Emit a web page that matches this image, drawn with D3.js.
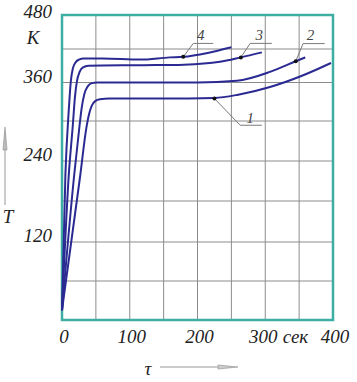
<!DOCTYPE html>
<html>
<head>
<meta charset="utf-8">
<script src="https://cdn.jsdelivr.net/npm/d3@7"></script>
<style>
  body { margin: 0; background: #fff; }
  svg text { font-family: "Liberation Serif", "DejaVu Serif", serif; font-style: italic; fill: #222; }
</style>
</head>
<body>
<div id="chart"></div>
<script>
// Data: time in seconds, temperature in K
var xTicks = [0, 100, 200, 300, 400];
var yTicks = [120, 240, 360, 480];
var xGrid = [0, 50, 100, 150, 200, 250, 300, 350, 400];
var yGrid = [0, 60, 120, 180, 240, 300, 360, 420, 480];

var curve1 = [[0, 15], [27, 219], [36, 290], [40, 311], [44, 324], [49, 331], [56, 334], [70, 335], [150, 335], [225, 336], [260, 341], [307, 353], [356, 373], [397, 395]];
var curve2 = [[0, 15], [18, 219], [26, 294], [29, 320], [33, 342], [38, 354], [44, 359], [52, 360], [150, 360], [200, 360], [258, 363], [307, 379], [345, 398], [359, 405]];
var curve3 = [[0, 15], [10, 219], [16, 294], [19, 336], [22, 362], [26, 379], [31, 387], [39, 390], [120, 391], [180, 392], [233, 397], [264, 405], [295, 414]];
var curve4 = [[0, 15], [5, 219], [10, 317], [13, 362], [16, 385], [20, 396], [25, 401], [32, 403], [60, 403], [115, 401], [159, 405], [179, 406], [215, 413], [250, 423]];
var curves = [curve1, curve2, curve3, curve4];

var curveNames = ["1", "2", "3", "4"];
var labelPoints = [[225, 335], [345, 398], [264, 405], [179, 406]];

// Layout
var width = 357, height = 382;

var svg = d3.select("#chart").append("svg")
    .attr("width", width)
    .attr("height", height);

var x = d3.scaleLinear()
    .domain([0, 400])
    .range([62, 333]);

// the scanned drawing has slightly uneven rows, so the y scale is piecewise
var y = d3.scaleLinear()
    .domain(yGrid)
    .range([320, 281, 242, 201, 161, 121, 82.5, 49, 15]);

// grid
svg.append("g")
    .selectAll("line")
    .data(xGrid)
    .enter().append("line")
    .attr("x1", function(d) { return x(d); })
    .attr("x2", function(d) { return x(d); })
    .attr("y1", y(0))
    .attr("y2", y(480))
    .style("stroke", "#8c8c8c")
    .style("stroke-width", 1);

svg.append("g")
    .selectAll("line")
    .data(yGrid)
    .enter().append("line")
    .attr("x1", x(0))
    .attr("x2", x(400))
    .attr("y1", function(d) { return y(d); })
    .attr("y2", function(d) { return y(d); })
    .style("stroke", "#8c8c8c")
    .style("stroke-width", 1);

// frame
svg.append("rect")
    .attr("x", x(0))
    .attr("y", y(480))
    .attr("width", x(400) - x(0))
    .attr("height", y(0) - y(480))
    .style("fill", "none")
    .style("stroke", "#3caea4")
    .style("stroke-width", 2.5);

// curves
var line = d3.line()
    .x(function(d) { return x(d[0]); })
    .y(function(d) { return y(d[1]); })
    .curve(d3.curveMonotoneX);

svg.selectAll(".curve")
    .data(curves)
    .enter().append("path")
    .attr("class", "curve")
    .attr("d", line)
    .style("fill", "none")
    .style("stroke", "#2a2a92")
    .style("stroke-width", 2);

// leader lines with the curve numbers (pixel offsets from the dot)
var leaders = [
    { kink: [25.7, 26.7], end: 47.4, text: [35.7, 24] },
    { kink: [7.3, -17.7], end: 29, text: [14.7, -21] },
    { kink: [9.3, -14], end: 31, text: [18.3, -17.5] },
    { kink: [10, -13.4], end: 30, text: [17.4, -17] }
];

var ann = svg.selectAll(".ann")
    .data(labelPoints)
    .enter().append("g")
    .attr("class", "ann")
    .attr("transform", function(d) { return "translate(" + x(d[0]) + "," + y(d[1]) + ")"; });

ann.append("path")
    .attr("d", function(d, i) {
        var l = leaders[i];
        return "M0,0L" + l.kink[0] + "," + l.kink[1] + "L" + l.end + "," + l.kink[1];
    })
    .style("fill", "none")
    .style("stroke", "#7a7a7a")
    .style("stroke-width", 1);

ann.append("circle")
    .attr("r", 2)
    .style("fill", "#111");

ann.append("text")
    .attr("x", function(d, i) { return leaders[i].text[0]; })
    .attr("y", function(d, i) { return leaders[i].text[1]; })
    .attr("text-anchor", "middle")
    .style("font-size", "15px")
    .style("fill", "#444")
    .text(function(d, i) { return curveNames[i]; });

// y tick labels
svg.append("g")
    .selectAll("text")
    .data(yTicks)
    .enter().append("text")
    .attr("x", 52)
    .attr("y", function(d) { return d === 480 ? y(d) + 3 : y(d); })
    .attr("text-anchor", "end")
    .style("font-size", "19px")
    .text(function(d) { return d; });

svg.append("text")
    .attr("x", 33)
    .attr("y", 44)
    .attr("text-anchor", "middle")
    .style("font-size", "19px")
    .text("K");

// x tick labels
svg.append("g")
    .selectAll("text")
    .data(xTicks)
    .enter().append("text")
    .attr("x", function(d) { return d === 300 ? x(d) - 2 : x(d) + 2; })
    .attr("y", 343)
    .attr("text-anchor", "middle")
    .style("font-size", "19px")
    .text(function(d) { return d; });

svg.append("text")
    .attr("x", x(300) + 17.5)
    .attr("y", 343)
    .style("font-size", "19px")
    .text("сек");

// axis names with arrows
svg.append("text")
    .attr("x", 8)
    .attr("y", 223)
    .attr("text-anchor", "middle")
    .style("font-size", "19px")
    .text("T");

svg.append("line")
    .attr("x1", 5).attr("x2", 5)
    .attr("y1", 205).attr("y2", 132)
    .style("stroke", "#999")
    .style("stroke-width", 1);

svg.append("path")
    .attr("d", "M3,150L5,127L7,150Z")
    .style("fill", "#bbb")
    .style("stroke", "#999")
    .style("stroke-width", 0.7);

svg.append("text")
    .attr("x", 148)
    .attr("y", 375)
    .attr("text-anchor", "middle")
    .style("font-size", "19px")
    .text("τ");

svg.append("line")
    .attr("x1", 160).attr("x2", 232)
    .attr("y1", 367).attr("y2", 367)
    .style("stroke", "#999")
    .style("stroke-width", 1);

svg.append("path")
    .attr("d", "M218,365L238,367L218,369Z")
    .style("fill", "#ccc")
    .style("stroke", "#999")
    .style("stroke-width", 0.7);
</script>
</body>
</html>
